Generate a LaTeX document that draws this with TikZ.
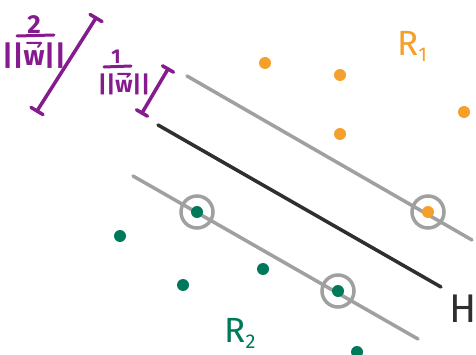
\documentclass[tikz,border=0pt]{standalone}
\usepackage{fontspec}
\setmainfont{Fira Sans}
\usetikzlibrary{calc}
\definecolor{svmpurple}{HTML}{861B8F}
\definecolor{svmorange}{HTML}{F5A02A}
\definecolor{svmgreen}{HTML}{00785A}
\definecolor{svmgray}{HTML}{A0A0A0}
\definecolor{svmblack}{HTML}{2F2F2F}
\newcommand{\mysub}[1]{{\fontsize{20}{22}\selectfont\raisebox{-6pt}{#1}}}
\tikzset{
  odot/.style={circle,fill=svmorange,inner sep=0pt,minimum size=12pt},
  gdot/.style={circle,fill=svmgreen,inner sep=0pt,minimum size=12pt},
  ring/.style={circle,draw=svmgray,line width=3.5pt,minimum size=32pt,inner sep=0pt},
  margin/.style={draw=svmgray,line width=3.5pt,line cap=round},
  hyper/.style={draw=svmblack,line width=3.5pt,line cap=round},
  dim/.style={draw=svmpurple,line width=3.5pt,line cap=round},
  fracbar/.style={draw=svmpurple,line width=3pt,line cap=round},
  vecbar/.style={draw=svmpurple,line width=2pt,line cap=round,line join=round},
  lbl/.style={inner sep=0pt},
  plbl/.style={inner sep=0pt,text=svmpurple}
}
\begin{document}
\begin{tikzpicture}[x=1pt,y=-1pt]
\useasboundingbox[fill=white] (0,0) rectangle (476,355);
% lines
\coordinate (u1) at (187,76); \coordinate (u2) at (472,240);
\coordinate (h1) at (158,125); \coordinate (h2) at (441,287);
\coordinate (l1) at (133,176); \coordinate (l2) at (418,339);
\draw[margin] (u1) -- (u2);
\draw[hyper] (h1) -- (h2);
\draw[margin] (l1) -- (l2);
% orange points
\node[odot] (o1) at (265,63) {};
\node[odot] (o2) at (340,75) {};
\node[odot] (o3) at (340,134) {};
\node[odot] (o4) at (464,112) {};
\node[odot] (o5) at (428,212) {};
% green points
\node[gdot] (g1) at (120,236) {};
\node[gdot] (g2) at (183,285) {};
\node[gdot] (g3) at (263,269) {};
\node[gdot] (g4) at (197,212) {};
\node[gdot] (g5) at (338,291) {};
\node[gdot] (g6) at (357,352) {};
% support vector rings
\node[ring] (r1) at (197,212) {};
\node[ring] (r2) at (428,212) {};
\node[ring] (r3) at (338,291) {};
% dimension brackets
\coordinate (a1) at (96,18); \coordinate (a2) at (37,111);
\draw[dim] (a1) -- (a2);
\draw[dim] ($(a1)+(-6,-3.6)$) -- ($(a1)+(6,3.6)$);
\draw[dim] ($(a2)+(-6,-3.6)$) -- ($(a2)+(6,3.6)$);
\coordinate (b1) at (168,69); \coordinate (b2) at (142,113);
\draw[dim] (b1) -- (b2);
\draw[dim] ($(b1)+(-5.5,-3.2)$) -- ($(b1)+(5.5,3.2)$);
\draw[dim] ($(b2)+(-5.5,-3.2)$) -- ($(b2)+(5.5,3.2)$);
% labels: 2/||w||
\node[plbl,font=\fontsize{26}{28}\selectfont\bfseries] (n2) at (34,25) {2};
\coordinate (f2a) at (17,36); \coordinate (f2b) at (54,35);
\draw[fracbar] (f2a) -- (f2b);
\node[plbl,font=\fontsize{28}{30}\selectfont\bfseries] (d2) at (34,56) {||w||};
\coordinate (v2a) at (27,43); \coordinate (v2b) at (41,43); \coordinate (v2c) at (38,47);
\draw[vecbar] (v2a) -- (v2b) -- (v2c);
% labels: 1/||w||
\node[plbl,font=\fontsize{20}{22}\selectfont\bfseries] (n1) at (116,57) {1};
\coordinate (f1a) at (104,67); \coordinate (f1b) at (131,66);
\draw[fracbar] (f1a) -- (f1b);
\node[plbl,font=\fontsize{23}{25}\selectfont\bfseries] (d1) at (124,84) {||w||};
\coordinate (v1a) at (118,74); \coordinate (v1b) at (130,74); \coordinate (v1c) at (127,77);
\draw[vecbar] (v1a) -- (v1b) -- (v1c);
\node[lbl,text=svmorange,font=\fontsize{35}{38}\selectfont] (R1) at (412,46) {R\mysub{1}};
\node[lbl,text=svmblack,font=\fontsize{40}{44}\selectfont] (H) at (463,309) {H};
\node[lbl,text=svmgreen,font=\fontsize{35}{38}\selectfont] (R2) at (240,333) {R\mysub{2}};
\end{tikzpicture}
\end{document}
